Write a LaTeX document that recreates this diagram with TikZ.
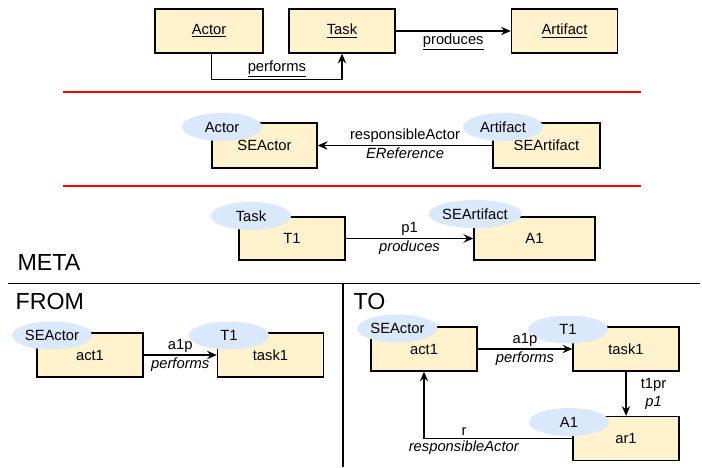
\documentclass[tikz,border=0pt]{standalone}
\usepackage{fontspec}
\setmainfont{Liberation Sans}
\usepackage{xcolor}
\usepackage{tikz}
\usetikzlibrary{arrows.meta, positioning, shapes.geometric}

\definecolor{boxfill}{HTML}{FFF2CC}
\definecolor{ovalfill}{HTML}{DAE8FC}

\tikzset{
	cls/.style={draw=black, fill=boxfill, minimum width=2.65cm, minimum height=1.1cm, inner sep=0pt},
	oval/.style={ellipse, fill=ovalfill, minimum width=2cm, minimum height=0.7cm, inner sep=0pt},
	lbl/.style={inner sep=1.5pt},
	title/.style={anchor=west, inner sep=0pt, font=\fontsize{16.5}{18}\selectfont}
}

\begin{document}
\begin{tikzpicture}[x=0.025cm, y=-0.025cm,
				>={Stealth[length=7pt, width=6pt, inset=2.5pt]},
				line width=0.95pt,
				font=\fontsize{10.5}{12.5}\selectfont]
				\useasboundingbox (0,0) rectangle (702,467);

				% meta classes
				\node[cls, minimum width=2.7cm] (actor) at (209,31) {\underline{Actor}};
				\node[cls] (task) at (342,31) {\underline{Task}};
				\node[cls] (artifact) at (564.5,31) {\underline{Artifact}};
				\draw[->] ([xshift=2]actor.south) -- ++(0,26) -| node[lbl, above, pos=0.25] (lperf) {\underline{performs}} (task.south);
				\draw[->] (task) -- node[lbl, below] (lprod) {\underline{produces}} (artifact);

				\draw[red] (63,92) -- (641,92);
				\draw[red] (63,186) -- (641,186);

				% typed classes
				\node[cls, minimum width=2.625cm, minimum height=1.125cm] (seactor) at (264.5,145.5) {SEActor};
				\node[cls, minimum width=2.675cm, minimum height=1.125cm] (seartifact) at (546.5,145.5) {SEArtifact};
				\node[oval] (oactor) at (222,127) {Actor};
				\node[oval] (oartifact) at (503,127) {Artifact};
				\draw[->] (seartifact) -- node[lbl, above] (lresp) {responsibleActor} node[lbl, below] (lref) {\textit{EReference}} (seactor);

				% instances
				\node[cls, minimum height=1.075cm] (t1) at (292,238.5) {T1};
				\node[cls, minimum width=3.025cm, minimum height=1.075cm] (a1) at (534.5,238.5) {A1};
				\node[oval] (otask) at (251,216) {Task};
				\node[oval, minimum width=1.95cm] (oseart) at (475,214) {SEArtifact};
				\draw[->] (t1) -- node[lbl, above] (lp1) {p1} node[lbl, below] (lproduces) {\textit{produces}} (a1);

				\node[title] (meta) at (17,262.5) {META};
				\draw (8,283.5) -- (700,283.5);
				\draw (343,283.5) -- (343,467);
				\node[title] (from) at (15,301.5) {FROM};
				\node[title] (to) at (353,301.5) {TO};

				% from
				\node[cls] (fact1) at (90,355) {act1};
				\node[cls] (ftask1) at (270.5,355) {task1};
				\node[oval] (ofseactor) at (52,335.5) {SEActor};
				\node[oval] (oft1) at (229,335.5) {T1};
				\draw[->] (fact1) -- node[lbl, above] (lfa1p) {a1p} node[lbl, below] (lfperf) {\textit{performs}} (ftask1);

				% to
				\node[cls] (tact1) at (424,349) {act1};
				\node[cls] (ttask1) at (626,349) {task1};
				\node[cls, minimum height=1.1cm] (tar1) at (626,438.5) {ar1};
				\node[oval] (otseactor) at (397.5,328.5) {SEActor};
				\node[oval] (ott1) at (568,329.5) {T1};
				\node[oval] (ota1) at (569,422) {A1};
				\draw[->] (tact1) -- node[lbl, above] (lta1p) {a1p} node[lbl, below] (ltperf) {\textit{performs}} (ttask1);
				\draw[->] (ttask1) -- node[lbl, right, xshift=0.3cm, align=center] (lt1pr) {t1pr\\\textit{p1}} (tar1);
				\draw[->] (tar1.west) -| node[lbl, above, pos=0.365] (lr) {r} node[lbl, below, pos=0.365] (lresact) {\textit{responsibleActor}} (tact1.south);
\end{tikzpicture}
\end{document}
